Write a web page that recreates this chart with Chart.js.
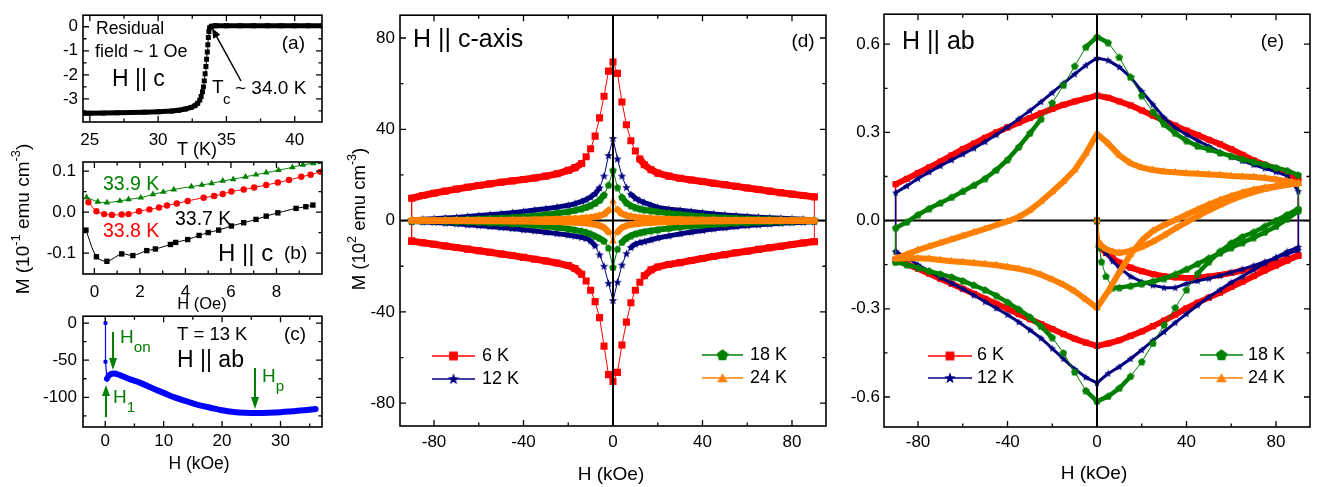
<!DOCTYPE html>
<html>
<head>
<meta charset="utf-8">
<script src="https://cdn.jsdelivr.net/npm/chart.js@4.4.1/dist/chart.umd.min.js"></script>
<style>
html, body { margin: 0; background: #fff; }
body { position: relative; width: 1320px; height: 487px; overflow: hidden; }
</style>
</head>
<body>
<script>
const RED = '#ff0000', NAVY = '#000080', GREEN = '#008000', ORANGE = '#ff8000', BLUE = '#0000ff', BLACK = '#000000';
const FONT = "'Liberation Sans', Arial, sans-serif";
Chart.defaults.font.family = FONT;
Chart.defaults.color = BLACK;

// (a) M(T), residual field ~1 Oe
const aT = [24.5, 25, 26, 27, 28, 29, 30, 31, 31.5, 32, 32.4, 32.7, 32.9, 33.05, 33.15, 33.25, 33.32, 33.38, 33.44, 33.5,
  33.55, 33.6, 33.64, 33.68, 33.72, 33.78, 33.9, 34.2, 35, 36, 37, 38, 39, 40, 41, 42];
const aM = [-3.6, -3.6, -3.59, -3.58, -3.56, -3.55, -3.53, -3.5, -3.47, -3.42, -3.36, -3.28, -3.18, -3.05, -2.9, -2.7, -2.5, -2.25, -1.95, -1.65,
  -1.35, -1.05, -0.75, -0.45, -0.2, -0.04, 0.02, 0.04, 0.04, 0.04, 0.04, 0.04, 0.04, 0.04, 0.04, 0.04];

// (b) low field M(H)
const b37H = [-0.37, 0.09, 0.55, 1.2, 1.69, 2.3, 2.68, 3.34, 3.57, 4.1, 4.6, 5.0, 5.46, 6.02, 6.56, 7.1, 7.55, 8.06, 8.86, 9.29, 9.6];
const b37M = [-0.044, -0.109, -0.12, -0.102, -0.106, -0.094, -0.09, -0.079, -0.074, -0.067, -0.057, -0.05, -0.044, -0.034, -0.026, -0.018, -0.01, -0.002, 0.009, 0.013, 0.017];
const b38H = [-0.26, 0.09, 0.43, 0.77, 1.2, 1.5, 1.96, 2.42, 2.84, 3.19, 3.62, 4.1, 4.8, 5.26, 5.64, 6.02, 6.56, 7.02, 7.55, 8.06, 8.55, 9.09, 9.5, 9.93];
const b38M = [0.024, 0.002, -0.005, -0.007, -0.006, -0.005, 0.002, 0.0065, 0.011, 0.016, 0.021, 0.027, 0.035, 0.039, 0.044, 0.05, 0.055, 0.06, 0.066, 0.072, 0.078, 0.086, 0.091, 0.098];
const b39H = [-0.34, 0.15, 0.55, 1.12, 1.5, 2.04, 2.57, 3.03, 3.49, 4.26, 4.72, 5.15, 5.64, 6.1, 6.64, 7.1, 7.55, 8.09, 8.7, 9.16, 9.62, 9.93];
const b39M = [0.036, 0.025, 0.023, 0.027, 0.031, 0.035, 0.043, 0.049, 0.055, 0.062, 0.066, 0.07, 0.076, 0.08, 0.086, 0.091, 0.096, 0.102, 0.109, 0.115, 0.119, 0.122];

// (c) T = 13 K, H || ab
const cH0 = [0.05, 0.05, 0.3];
const cM0 = [0, -52, -75];
const cH = [0.3, 0.7, 1.4, 2.5, 4, 6, 8, 10, 12, 14, 16, 18, 20, 22, 24, 26, 28, 30, 32, 34, 36];
const cM = [-75, -70, -68, -70, -75, -80.5, -87.5, -94, -100.5, -105.5, -110.5, -114, -117.5, -119.7, -120.7, -121, -120.7, -120, -118.8, -117.5, -115.8];

// (d) H || c loops, upper and lower branch on the same field grid
const dH = [-90, -85, -80, -75, -70, -65, -60, -55, -50, -45, -40, -35, -30, -25, -20, -17, -14, -12, -10, -8, -6, -4, -2,
  0, 2, 4, 6, 8, 10, 12, 14, 17, 20, 25, 30, 35, 40, 45, 50, 55, 60, 65, 70, 75, 80, 85, 90];
const d6Up = [9.8, 11.0, 12.0, 12.9, 13.8, 14.6, 15.4, 16.1, 16.8, 17.4, 18.0, 18.7, 19.5, 20.5, 22.0, 23.2, 25.0, 28.0, 31.5, 37.0, 45.0, 54.5, 65.5,
  69.5, 64.5, 52, 42, 35, 30.5, 27, 24.5, 22.3, 20.8, 19.5, 18.5, 17.8, 17.1, 16.4, 15.7, 15.0, 14.3, 13.6, 12.9, 12.2, 11.6, 11.0, 10.4];
const d6Dn = [-9.0, -9.7, -10.4, -11.1, -11.8, -12.5, -13.2, -13.9, -14.6, -15.3, -16.1, -16.9, -17.7, -18.6, -19.7, -21.0, -23.5, -26.5, -30.5, -35.5, -42.5, -55, -67.5,
  -70.5, -66.5, -54.5, -44.5, -36, -30.5, -27, -24.2, -21.6, -20.3, -19.2, -18.4, -17.5, -16.6, -15.7, -14.9, -14.1, -13.4, -12.6, -11.9, -11.2, -10.5, -9.8, -9.2];
const d12Up = [0.4, 0.6, 0.8, 1.1, 1.4, 1.8, 2.2, 2.6, 3.0, 3.5, 4.0, 4.6, 5.2, 5.9, 6.7, 7.4, 8.4, 9.2, 10.3, 11.8, 14.3, 19.5, 28.5,
  36, 27, 19.5, 14.5, 11.5, 9.8, 8.7, 7.9, 6.8, 5.8, 5.0, 4.5, 4.0, 3.4, 2.9, 2.5, 2.1, 1.8, 1.5, 1.2, 1.0, 0.8, 0.6, 0.4];
const d12Dn = [-0.4, -0.6, -0.8, -1.1, -1.4, -1.8, -2.2, -2.6, -3.0, -3.5, -4.0, -4.5, -5.1, -5.7, -6.3, -6.8, -7.3, -7.8, -8.9, -11.0, -15.0, -20.0, -27.5,
  -35, -27, -19.5, -14.5, -11.8, -10.3, -9.6, -9.2, -8.4, -7.6, -6.7, -5.8, -5.0, -4.3, -3.6, -3.1, -2.6, -2.2, -1.8, -1.5, -1.2, -0.9, -0.7, -0.5];
const d18Up = [0.1, 0.15, 0.2, 0.3, 0.4, 0.5, 0.7, 0.9, 1.1, 1.4, 1.7, 2.1, 2.6, 3.2, 3.9, 4.5, 5.2, 5.8, 6.6, 7.6, 8.9, 11.2, 15.5,
  22, 14.5, 10.2, 7.8, 6.5, 5.7, 5.1, 4.7, 4.3, 3.9, 3.2, 2.7, 2.2, 1.8, 1.5, 1.2, 1.0, 0.8, 0.6, 0.5, 0.4, 0.3, 0.2, 0.15];
const d18Dn = [-0.1, -0.15, -0.2, -0.3, -0.4, -0.5, -0.7, -0.9, -1.1, -1.3, -1.6, -2.0, -2.5, -3.0, -3.6, -4.1, -4.7, -5.2, -5.9, -6.8, -7.8, -9.0, -12,
  -20.5, -12.5, -9.5, -7.7, -6.6, -5.8, -5.3, -4.9, -4.4, -4.0, -3.4, -2.8, -2.4, -2.0, -1.7, -1.4, -1.1, -0.9, -0.7, -0.55, -0.4, -0.3, -0.2, -0.15];
const d24Up = [0.0, 0.0, 0.05, 0.05, 0.1, 0.1, 0.15, 0.15, 0.2, 0.25, 0.3, 0.35, 0.45, 0.55, 0.7, 0.85, 1.0, 1.2, 1.4, 1.7, 2.1, 2.8, 4.5,
  8.5, 4.8, 3.0, 2.2, 1.8, 1.5, 1.3, 1.1, 0.9, 0.75, 0.6, 0.45, 0.35, 0.3, 0.25, 0.2, 0.15, 0.12, 0.1, 0.08, 0.06, 0.05, 0.03, 0.02];
const d24Dn = [0.0, 0.0, -0.05, -0.05, -0.1, -0.1, -0.15, -0.15, -0.2, -0.25, -0.3, -0.35, -0.45, -0.55, -0.7, -0.85, -1.0, -1.2, -1.4, -1.7, -2.2, -3.0, -5.0,
  -9, -5.0, -3.1, -2.3, -1.8, -1.5, -1.3, -1.1, -0.9, -0.75, -0.6, -0.45, -0.35, -0.3, -0.25, -0.2, -0.15, -0.12, -0.1, -0.08, -0.06, -0.05, -0.03, -0.02];

// (e) H || ab loops
const eH = [-90, -85, -80, -75, -70, -65, -60, -55, -50, -45, -40, -35, -30, -25, -20, -15, -10, -5,
  0, 5, 10, 15, 20, 25, 30, 35, 40, 45, 50, 55, 60, 65, 70, 75, 80, 85, 90];
const e6Up = [0.124, 0.142, 0.162, 0.181, 0.201, 0.222, 0.243, 0.262, 0.282, 0.3, 0.317, 0.333, 0.349, 0.365, 0.38, 0.394, 0.405, 0.415,
  0.425, 0.418, 0.405, 0.392, 0.375, 0.357, 0.341, 0.323, 0.306, 0.291, 0.275, 0.26, 0.243, 0.224, 0.205, 0.19, 0.177, 0.165, 0.14];
const e6Dn = [-0.133, -0.148, -0.164, -0.181, -0.198, -0.215, -0.232, -0.249, -0.266, -0.283, -0.3, -0.318, -0.335, -0.352, -0.369, -0.386, -0.402, -0.415,
  -0.426, -0.418, -0.407, -0.392, -0.377, -0.359, -0.34, -0.32, -0.298, -0.279, -0.262, -0.245, -0.226, -0.208, -0.189, -0.17, -0.153, -0.136, -0.118];
const e12Up = [0.095, 0.118, 0.143, 0.165, 0.186, 0.206, 0.226, 0.246, 0.268, 0.292, 0.318, 0.346, 0.374, 0.404, 0.435, 0.467, 0.498, 0.528,
  0.553, 0.545, 0.522, 0.488, 0.44, 0.395, 0.35, 0.315, 0.293, 0.272, 0.253, 0.233, 0.216, 0.203, 0.19, 0.178, 0.166, 0.152, 0.1];
const e12Dn = [-0.105, -0.125, -0.15, -0.172, -0.193, -0.213, -0.232, -0.254, -0.276, -0.298, -0.32, -0.345, -0.372, -0.4, -0.435, -0.47, -0.505, -0.533,
  -0.552, -0.52, -0.497, -0.47, -0.44, -0.408, -0.378, -0.347, -0.317, -0.288, -0.26, -0.235, -0.21, -0.19, -0.167, -0.145, -0.125, -0.105, -0.09];
const e18Up = [-0.025, -0.005, 0.02, 0.041, 0.06, 0.079, 0.099, 0.12, 0.143, 0.172, 0.207, 0.25, 0.297, 0.345, 0.4, 0.46, 0.525, 0.59,
  0.625, 0.605, 0.555, 0.488, 0.425, 0.37, 0.328, 0.297, 0.272, 0.253, 0.242, 0.23, 0.219, 0.209, 0.199, 0.19, 0.18, 0.17, 0.155];
const e18Dn = [-0.14, -0.15, -0.16, -0.172, -0.182, -0.192, -0.205, -0.22, -0.236, -0.255, -0.278, -0.302, -0.328, -0.36, -0.398, -0.45, -0.515, -0.578,
  -0.615, -0.598, -0.57, -0.53, -0.48, -0.418, -0.355, -0.296, -0.236, -0.18, -0.14, -0.105, -0.077, -0.055, -0.04, -0.02, 0.0, 0.02, 0.04];
const e24Up = [-0.13, -0.115, -0.1, -0.088, -0.076, -0.064, -0.052, -0.04, -0.028, -0.015, -0.003, 0.012, 0.035, 0.065, 0.098, 0.133, 0.172, 0.228,
  0.295, 0.262, 0.222, 0.195, 0.18, 0.172, 0.167, 0.164, 0.161, 0.159, 0.157, 0.155, 0.152, 0.15, 0.148, 0.145, 0.14, 0.134, 0.126];
const e24Dn = [-0.13, -0.128, -0.128, -0.13, -0.134, -0.138, -0.141, -0.144, -0.148, -0.152, -0.158, -0.164, -0.172, -0.184, -0.2, -0.218, -0.24, -0.268,
  -0.297, -0.24, -0.175, -0.115, -0.068, -0.035, -0.015, 0.002, 0.02, 0.038, 0.055, 0.07, 0.083, 0.095, 0.105, 0.112, 0.117, 0.122, 0.126];
// initial (virgin) curves from zero field
const eVH = [0, 1, 2, 4, 7, 10, 15, 20, 25, 30, 35, 40, 45, 50, 55, 60, 65, 70, 75, 80, 85, 90];
const e6V = [0, -0.085, -0.095, -0.11, -0.128, -0.143, -0.16, -0.172, -0.182, -0.189, -0.193, -0.195, -0.194, -0.19, -0.185, -0.178, -0.17, -0.162, -0.153, -0.143, -0.132, -0.12];
const e12V = [0, -0.082, -0.092, -0.11, -0.138, -0.16, -0.19, -0.208, -0.22, -0.228, -0.228, -0.214, -0.205, -0.197, -0.187, -0.176, -0.165, -0.153, -0.14, -0.127, -0.114, -0.1];
const e18V = [0, -0.09, -0.14, -0.19, -0.228, -0.228, -0.222, -0.215, -0.207, -0.197, -0.183, -0.166, -0.147, -0.128, -0.11, -0.092, -0.075, -0.058, -0.04, -0.02, 0.005, 0.033];
const e24V = [0, -0.075, -0.085, -0.097, -0.106, -0.11, -0.103, -0.09, -0.072, -0.05, -0.027, -0.005, 0.015, 0.035, 0.053, 0.07, 0.085, 0.097, 0.107, 0.115, 0.122, 0.128];

function pts(xs, ys) {
  return xs.map((x, i) => ({ x: x, y: ys[i] }));
}

// lower branch up to +90, upper branch back to -90, then close
function loop(h, up, dn) {
  const low = pts(h, dn), high = pts(h, up).reverse();
  return low.concat(high, [low[0]]);
}

function mark(kind, size, color) {
  const c = document.createElement('canvas');
  c.width = c.height = size;
  const g = c.getContext('2d'), r = size / 2;
  g.fillStyle = color;
  g.beginPath();
  if (kind === 'rect') {
    g.rect(size * 0.1, size * 0.1, size * 0.8, size * 0.8);
  } else {
    const n = kind === 'star' ? 10 : kind === 'tri' ? 3 : 5;
    const cy = kind === 'tri' ? r * 1.2 : r * 1.05;
    for (let i = 0; i < n; i++) {
      const a = -Math.PI / 2 + i * 2 * Math.PI / n;
      const rr = kind === 'star' && i % 2 ? r * 0.42 : r;
      g.lineTo(r + rr * Math.cos(a), cy + rr * Math.sin(a));
    }
  }
  g.closePath();
  g.fill();
  return c;
}

// thick where the points crowd into a band, thin where the curve is steep
const steep = (c, k) => Math.abs(c.p1.y - c.p0.y) > k * Math.abs(c.p1.x - c.p0.x);

function ds(data, color, o) {
  const d = {
    data: data, borderColor: color, backgroundColor: color,
    pointStyle: o.style, pointRadius: o.r, pointBackgroundColor: color, pointBorderColor: color, pointBorderWidth: 0,
    borderWidth: o.w || 1, tension: o.tension || 0, order: o.order || 0,
    borderCapStyle: 'round', borderJoinStyle: 'round'
  };
  if (o.band) d.segment = { borderWidth: c => steep(c, o.k || 1.3) ? (o.w || 1) : o.band };
  return d;
}

function drawText(ctx, n) {
  const size = n.size || 15;
  const parts = Array.isArray(n.t) ? n.t : [n.t];
  ctx.save();
  ctx.translate(n.x, n.y);
  if (n.rot) ctx.rotate(n.rot);
  ctx.fillStyle = n.color || BLACK;
  ctx.textBaseline = 'middle';
  ctx.textAlign = 'left';
  const items = parts.map(p => typeof p === 'string' ? { t: p, s: size, dy: 0 }
    : p.sub ? { t: p.t, s: size * 0.8, dy: size * 0.5 } : { t: p.t, s: size * 0.68, dy: -size * 0.4 });
  let w = 0;
  items.forEach(it => { ctx.font = it.s + 'px ' + FONT; it.w = ctx.measureText(it.t).width; w += it.w; });
  let x0 = n.align === 'center' ? -w / 2 : n.align === 'right' ? -w : 0;
  items.forEach(it => { ctx.font = it.s + 'px ' + FONT; ctx.fillText(it.t, x0, it.dy); x0 += it.w; });
  ctx.restore();
}

function drawArrow(ctx, a) {
  const [x1, y1, x2, y2] = a.p;
  const ang = Math.atan2(y2 - y1, x2 - x1), L = a.head || 10, W = a.hw || 4;
  const cs = Math.cos(ang), sn = Math.sin(ang);
  ctx.save();
  ctx.strokeStyle = ctx.fillStyle = a.color;
  ctx.lineWidth = a.w || 1.5;
  ctx.beginPath();
  ctx.moveTo(x1, y1);
  ctx.lineTo(x2 - L * 0.8 * cs, y2 - L * 0.8 * sn);
  ctx.stroke();
  ctx.beginPath();
  ctx.moveTo(x2, y2);
  ctx.lineTo(x2 - L * cs + W * sn, y2 - L * sn - W * cs);
  ctx.lineTo(x2 - L * cs - W * sn, y2 - L * sn + W * cs);
  ctx.closePath();
  ctx.fill();
  ctx.restore();
}

function makeFrame(cfg) {
  const zero = (chart, which) => {
    const { ctx, chartArea: a, scales: { x, y } } = chart;
    ctx.save();
    ctx.strokeStyle = BLACK;
    ctx.lineWidth = 2;
    ctx.beginPath();
    if (which === 'h') { const py = y.getPixelForValue(0); ctx.moveTo(a.left, py); ctx.lineTo(a.right, py); }
    else { const px = x.getPixelForValue(0); ctx.moveTo(px, a.top); ctx.lineTo(px, a.bottom); }
    ctx.stroke();
    ctx.restore();
  };
  return {
    id: 'frame',
    beforeDatasetsDraw(chart) {
      if (cfg.zeroH) zero(chart, 'h');
    },
    afterDatasetsDraw(chart) {
      const { ctx, chartArea: a, scales: { x, y } } = chart;
      if (cfg.zeroV) zero(chart, 'v');
      ctx.save();
      ctx.strokeStyle = BLACK;
      ctx.lineWidth = 1.6;
      ctx.strokeRect(a.left, a.top, a.right - a.left, a.bottom - a.top);
      ctx.lineWidth = 1.3;
      ctx.beginPath();
      const tx = (v, len) => { const p = x.getPixelForValue(v); ctx.moveTo(p, a.bottom); ctx.lineTo(p, a.bottom - len); ctx.moveTo(p, a.top); ctx.lineTo(p, a.top + len); };
      const ty = (v, len) => { const p = y.getPixelForValue(v); ctx.moveTo(a.left, p); ctx.lineTo(a.left + len, p); ctx.moveTo(a.right, p); ctx.lineTo(a.right - len, p); };
      cfg.x.major.forEach(v => tx(v, 6));
      cfg.x.minor.forEach(v => tx(v, 3.5));
      cfg.y.major.forEach(v => ty(v, 6));
      cfg.y.minor.forEach(v => ty(v, 3.5));
      ctx.stroke();
      ctx.restore();

      ctx.save();
      ctx.translate(-cfg.box[0], -cfg.box[1]);
      (cfg.legend || []).forEach(l => {
        ctx.strokeStyle = l.color;
        ctx.lineWidth = 1.5;
        ctx.beginPath();
        ctx.moveTo(l.x1, l.y);
        ctx.lineTo(l.x2, l.y);
        ctx.stroke();
        const m = l.m, cx = (l.x1 + l.x2) / 2;
        ctx.drawImage(m, cx - m.width / 2, l.y - m.height / 2);
      });
      (cfg.arrows || []).forEach(ar => drawArrow(ctx, ar));
      (cfg.notes || []).forEach(n => drawText(ctx, n));
      ctx.restore();
    }
  };
}

function panel(cfg) {
  const [bl, bt, bw, bh] = cfg.box, [al, at, ar, ab] = cfg.area;
  const cv = document.createElement('canvas');
  cv.width = bw;
  cv.height = bh;
  cv.style.cssText = 'position:absolute;left:' + bl + 'px;top:' + bt + 'px;width:' + bw + 'px;height:' + bh + 'px';
  document.body.appendChild(cv);
  const axis = (o, horiz, size) => ({
    type: 'linear', min: o.min, max: o.max,
    afterBuildTicks: s => { s.ticks = o.major.map(v => ({ value: v })); },
    afterFit: s => { if (horiz) s.height = size; else s.width = size; },
    grid: { display: false, drawTicks: false },
    border: { display: false },
    ticks: {
      autoSkip: false, maxRotation: 0, padding: o.pad, color: BLACK, font: { size: 17 },
      callback: v => o.dec ? v.toFixed(o.dec) : String(v)
    }
  });
  new Chart(cv, {
    type: 'line',
    data: { datasets: cfg.datasets },
    options: {
      responsive: false, animation: false, events: [],
      layout: { padding: { top: at - bt, right: bl + bw - ar, left: 0, bottom: 0 } },
      scales: { x: axis(cfg.x, true, bt + bh - ab), y: axis(cfg.y, false, al - bl) },
      plugins: { legend: { display: false }, tooltip: { enabled: false } }
    },
    plugins: [makeFrame(cfg)]
  });
}

// (a)
panel({
  box: [0, 0, 334, 160], area: [83, 11, 322, 122],
  x: { min: 24.5, max: 42, major: [25, 30, 35, 40], minor: [27.5, 32.5, 37.5], pad: 8.5 },
  y: { min: -3.96, max: 0.48, major: [0, -1, -2, -3], minor: [-0.5, -1.5, -2.5, -3.5], pad: 5 },
  datasets: [ds(pts(aT, aM), BLACK, { style: 'rect', r: 3.5, band: 5 })],
  arrows: [{ p: [241, 81, 212, 28], color: BLACK, w: 1.5, head: 10, hw: 4 }],
  notes: [
    { t: 'Residual', x: 96, y: 29, size: 17.5 },
    { t: 'field ~ 1 Oe', x: 95, y: 52, size: 18 },
    { t: 'H || c', x: 112, y: 80, size: 23 },
    { t: '(a)', x: 305, y: 44, size: 19, align: 'right' },
    { t: 'T', x: 212, y: 88, size: 19 },
    { t: 'c', x: 223, y: 100, size: 15 },
    { t: '~ 34.0 K', x: 235, y: 89, size: 19 },
    { t: 'T (K)', x: 197, y: 150, size: 18, align: 'center' }
  ]
});

// (b)
panel({
  box: [0, 120, 334, 192], area: [83, 162, 322, 274],
  x: { min: -0.5, max: 10, major: [0, 2, 4, 6, 8], minor: [1, 3, 5, 7, 9], pad: 8.5 },
  y: { min: -0.151, max: 0.122, major: [0.1, 0, -0.1], minor: [0.05, -0.05], pad: 7, dec: 1 },
  datasets: [
    ds(pts(b39H, b39M), GREEN, { style: 'triangle', r: 3.8, tension: 0.3 }),
    ds(pts(b38H, b38M), RED, { style: 'circle', r: 3.2, tension: 0.3 }),
    ds(pts(b37H, b37M), BLACK, { style: 'rect', r: 3.8, tension: 0.3 })
  ],
  notes: [
    { t: ['M (10', { t: '-1', sup: 1 }, ' emu cm', { t: '-3', sup: 1 }, ')'], x: 24, y: 219, size: 19, align: 'center', rot: -Math.PI / 2 },
    { t: '33.9 K', x: 103, y: 185, size: 19.5, color: GREEN },
    { t: '33.8 K', x: 103, y: 232, size: 19.5, color: RED },
    { t: '33.7 K', x: 175, y: 220, size: 19.5 },
    { t: 'H || c', x: 218, y: 254, size: 24 },
    { t: '(b)', x: 284, y: 254, size: 19 },
    { t: 'H (Oe)', x: 202, y: 304, size: 16.5, align: 'center' }
  ]
});

// (c)
panel({
  box: [0, 300, 334, 187], area: [83, 315, 322, 427],
  x: { min: -3.8, max: 37.1, major: [0, 10, 20, 30], minor: [5, 15, 25, 35], pad: 4 },
  y: { min: -140, max: 9.3, major: [0, -50, -100], minor: [-25, -75, -125], pad: 6 },
  datasets: [
    ds(pts(cH0, cM0), BLUE, { style: 'circle', r: 2.2, w: 1.2 }),
    ds(pts(cH, cM), BLUE, { style: 'circle', r: 0, w: 6, tension: 0.4 })
  ],
  arrows: [
    { p: [113, 332, 113, 370], color: GREEN, w: 2, head: 12, hw: 4 },
    { p: [106, 417, 106, 385], color: GREEN, w: 2, head: 11, hw: 4 },
    { p: [255, 368, 255, 409], color: GREEN, w: 2, head: 12, hw: 4 }
  ],
  notes: [
    { t: 'T = 13 K', x: 177, y: 335, size: 18.5 },
    { t: 'H || ab', x: 177, y: 361, size: 23 },
    { t: '(c)', x: 284, y: 335, size: 19 },
    { t: ['H', { t: 'on', sub: 1 }], x: 120, y: 338, size: 19, color: GREEN },
    { t: ['H', { t: '1', sub: 1 }], x: 113, y: 398, size: 19, color: GREEN },
    { t: ['H', { t: 'p', sub: 1 }], x: 262, y: 377, size: 19, color: GREEN },
    { t: 'H (kOe)', x: 199, y: 464, size: 17.5, align: 'center' }
  ]
});

// (d)
panel({
  box: [336, 0, 504, 487], area: [400, 12, 826, 426],
  x: { min: -95.2, max: 95.2, major: [-80, -40, 0, 40, 80], minor: [-60, -20, 20, 60], pad: 6.5 },
  y: { min: -90, max: 90, major: [-80, -40, 0, 40, 80], minor: [-60, -20, 20, 60], pad: 5 },
  zeroH: true, zeroV: true,
  datasets: [
    ds(loop(dH, d6Up, d6Dn), RED, { style: 'rect', r: 5, band: 7, order: 4 }),
    ds(loop(dH, d12Up, d12Dn), NAVY, { style: mark('star', 9, NAVY), r: 4, band: 5, order: 3 }),
    ds(loop(dH, d18Up, d18Dn), GREEN, { style: mark('pent', 8, GREEN), r: 4, band: 6, order: 2 }),
    ds(loop(dH, d24Up, d24Dn), ORANGE, { style: 'triangle', r: 4.5, band: 6.5, order: 1 })
  ],
  legend: [
    { x1: 432, x2: 475, y: 356, color: RED, m: mark('rect', 11, RED) },
    { x1: 432, x2: 475, y: 379, color: NAVY, m: mark('star', 12, NAVY) },
    { x1: 702, x2: 743, y: 355, color: GREEN, m: mark('pent', 12, GREEN) },
    { x1: 702, x2: 743, y: 378, color: ORANGE, m: mark('tri', 12, ORANGE) }
  ],
  notes: [
    { t: 'H || c-axis', x: 413, y: 40, size: 25 },
    { t: '(d)', x: 803, y: 42, size: 19, align: 'center' },
    { t: ['M (10', { t: '2', sup: 1 }, ' emu cm', { t: '-3', sup: 1 }, ')'], x: 360, y: 219, size: 18.5, align: 'center', rot: -Math.PI / 2 },
    { t: 'H (kOe)', x: 611, y: 475, size: 19, align: 'center' },
    { t: '6 K', x: 482, y: 356, size: 18 },
    { t: '12 K', x: 482, y: 379, size: 18 },
    { t: '18 K', x: 750, y: 355, size: 18 },
    { t: '24 K', x: 750, y: 378, size: 18 }
  ]
});

// (e)
panel({
  box: [840, 0, 480, 487], area: [884, 12, 1310, 427],
  x: { min: -95.2, max: 95.2, major: [-80, -40, 0, 40, 80], minor: [-60, -20, 20, 60], pad: 5.5 },
  y: { min: -0.702, max: 0.702, major: [-0.6, -0.3, 0, 0.3, 0.6], minor: [-0.45, -0.15, 0.15, 0.45], pad: 4, dec: 1 },
  zeroH: true, zeroV: true,
  datasets: [
    ds(loop(eH, e6Up, e6Dn), RED, { style: 'rect', r: 4.3, band: 6, k: 2.5, w: 1.5, order: 4 }),
    ds(pts(eVH, e6V), RED, { style: 'rect', r: 4.3, band: 6, k: 2.5, w: 1.5, order: 4 }),
    ds(loop(eH, e12Up, e12Dn), NAVY, { style: mark('star', 8, NAVY), r: 3, band: 3, k: 2.5, w: 1.5, order: 3 }),
    ds(pts(eVH, e12V), NAVY, { style: mark('star', 8, NAVY), r: 3, band: 3, k: 2.5, w: 1.5, order: 3 }),
    ds(loop(eH, e18Up, e18Dn), GREEN, { style: mark('pent', 8, GREEN), r: 3, band: 4.5, order: 2 }),
    ds(pts(eVH, e18V), GREEN, { style: mark('pent', 8, GREEN), r: 3, band: 4.5, order: 2 }),
    ds(loop(eH, e24Up, e24Dn), ORANGE, { style: 'triangle', r: 4.5, band: 6, k: 2.5, w: 2, order: 1 }),
    ds(pts(eVH, e24V), ORANGE, { style: 'triangle', r: 4.5, band: 6, k: 2.5, w: 2, order: 1 })
  ],
  legend: [
    { x1: 928, x2: 972, y: 356, color: RED, m: mark('rect', 11, RED) },
    { x1: 928, x2: 972, y: 378, color: NAVY, m: mark('star', 12, NAVY) },
    { x1: 1200, x2: 1243, y: 355, color: GREEN, m: mark('pent', 12, GREEN) },
    { x1: 1200, x2: 1243, y: 378, color: ORANGE, m: mark('tri', 12, ORANGE) }
  ],
  notes: [
    { t: 'H || ab', x: 902, y: 42, size: 25 },
    { t: '(e)', x: 1284, y: 42, size: 19, align: 'right' },
    { t: 'H (kOe)', x: 1094, y: 474, size: 19, align: 'center' },
    { t: '6 K', x: 977, y: 355, size: 18 },
    { t: '12 K', x: 977, y: 378, size: 18 },
    { t: '18 K', x: 1248, y: 355, size: 18 },
    { t: '24 K', x: 1248, y: 378, size: 18 }
  ]
});
</script>
</body>
</html>
